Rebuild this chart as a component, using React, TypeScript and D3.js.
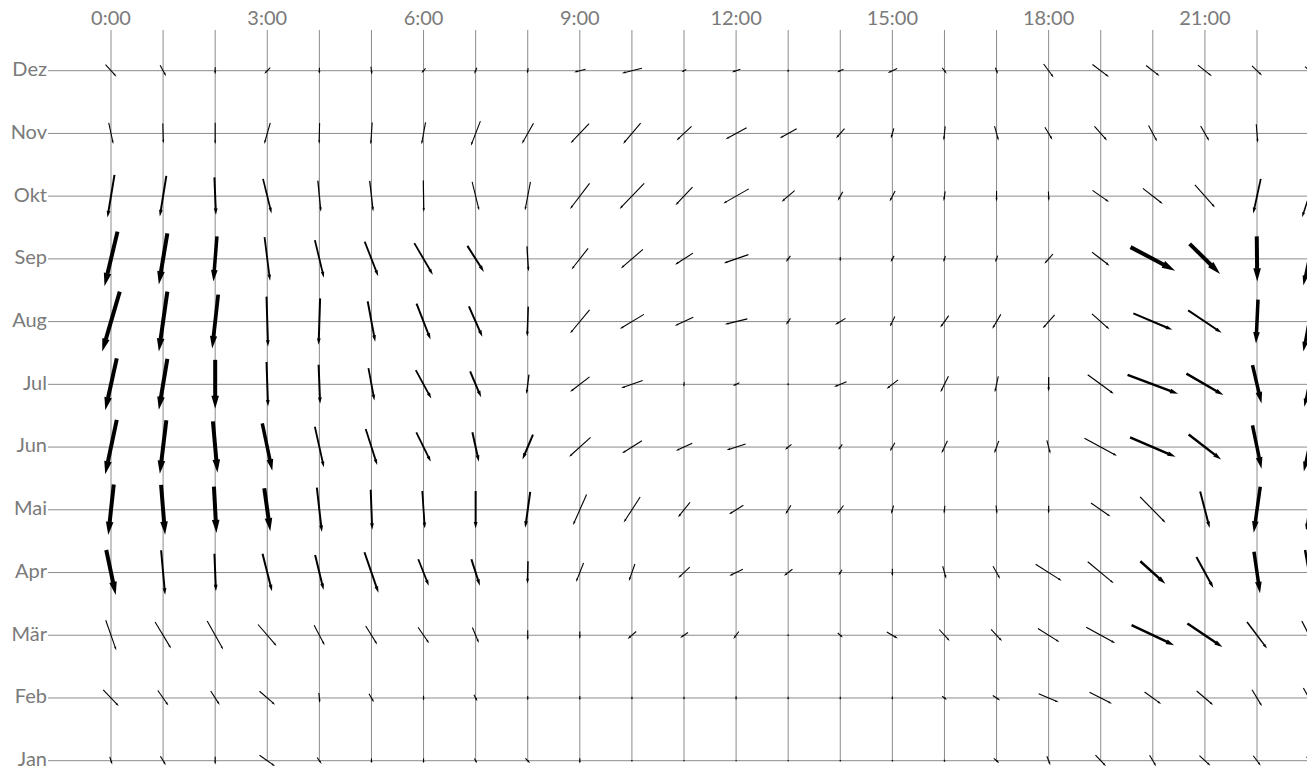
import React from 'react';
import * as d3 from 'd3';

type Vec = [number, number, number]; // u (east), v (north), steadiness 0..1

const monthNames = ['Jan', 'Feb', 'Mär', 'Apr', 'Mai', 'Jun', 'Jul', 'Aug', 'Sep', 'Okt', 'Nov', 'Dez'];
const hours = d3.range(24);
const hourTicks = [0, 3, 6, 9, 12, 15, 18, 21];

// mean wind vector per hour (0:00 .. 23:00)
const jan: Vec[] = [
    [0.25, -0.75, .05], [0.55, -0.9, .05], [0, -0.8, .05], [1.55, -1.1, .05], [0.45, -0.65, .05], [0, -0.45, .05],
    [0, -0.45, .05], [0.25, -0.45, .05], [0.45, -0.45, .05], [0, -0.5, .05], [0, -0.15, .05], [0, -0.1, .05],
    [0, -0.1, .05], [0, -0.1, .05], [0, -0.15, .05], [0, -0.15, .05], [0.1, -0.2, .05], [0.55, -0.45, .05],
    [0.35, -0.9, .05], [1.05, -1.1, .05], [0.65, -1.1, .05], [1.1, -1.0, .05], [0.75, -1.0, .05], [0.5, -0.8, .05],
];
const feb: Vec[] = [
    [1.55, -1.6, .05], [1.05, -1.5, .05], [0.9, -1.4, .05], [1.55, -1.35, .05], [0.1, -1.0, .05], [0.5, -0.85, .05],
    [0, -0.45, .05], [0.35, -0.65, .05], [0, -0.4, .05], [0, -0.4, .05], [0, -0.25, .05], [0, -0.25, .05],
    [0, -0.35, .05], [0, -0.25, .05], [0, -0.25, .05], [0, -0.3, .05], [0.45, -0.35, .05], [0.75, -0.5, .05],
    [2.0, -0.85, .05], [2.25, -1.15, .05], [1.65, -1.2, .05], [1.65, -1.4, .05], [1.0, -1.65, .05], [1.15, -2.0, .05],
];
const maer: Vec[] = [
    [1.05, -3.0, .05], [1.6, -2.65, .05], [1.6, -2.85, .05], [1.85, -2.15, .05], [1.05, -2.0, .05], [1.15, -1.85, .05],
    [1.1, -1.6, .05], [0.65, -1.55, .05], [0, -1.0, .05], [0, -0.75, .05], [-0.85, -0.75, .05], [-0.8, -0.55, .05],
    [-0.55, -0.75, .05], [0, -0.15, .05], [0.5, -0.45, .05], [1.1, -0.65, .05], [1.05, -1.15, .05], [1.1, -1.15, .05],
    [2.15, -1.35, .05], [2.9, -1.6, .08], [4.25, -2.0, .44], [3.5, -2.35, .44], [2.0, -2.65, .17], [1.45, -2.85, .08],
];
const apr: Vec[] = [
    [0.95, -4.5, .86], [0.4, -4.45, .3], [0.15, -3.75, .3], [0.95, -3.75, .3], [0.85, -3.5, .3], [1.4, -4.05, .3],
    [1.05, -2.65, .25], [0.85, -2.65, .3], [-0.05, -2.25, .17], [-0.75, -1.9, .05], [-0.6, -1.7, .05], [-1.15, -1.1, .05],
    [-1.35, -0.65, .05], [-0.85, -0.65, .05], [-0.35, -0.55, .05], [0, -0.75, .05], [0.35, -1.25, .05], [0.7, -1.25, .05],
    [2.6, -1.65, .05], [2.6, -2.15, .05], [2.5, -2.25, .44], [1.7, -3.1, .3], [0.6, -4.15, .72], [0.8, -4.5, .44],
];
const mai: Vec[] = [
    [-0.55, -5.05, .86], [0.4, -5.0, .86], [0.25, -4.65, .86], [0.6, -4.3, .86], [0.5, -4.45, .3], [0.15, -4.0, .3],
    [0.25, -3.75, .25], [0, -3.75, .3], [-0.5, -3.6, .3], [-1.35, -3.05, .05], [-1.65, -2.55, .05], [-1.2, -1.5, .05],
    [-1.45, -0.9, .05], [-0.55, -0.9, .05], [-0.65, -0.85, .05], [-0.25, -0.85, .05], [-0.1, -0.8, .05], [0.1, -0.85, .05],
    [0, -0.8, .05], [1.95, -1.35, .05], [2.55, -2.6, .08], [0.95, -3.65, .3], [-0.65, -4.6, .72], [-0.6, -4.1, .3],
];
const jun: Vec[] = [
    [-1.15, -5.45, .86], [-0.65, -5.35, .86], [0.45, -5.15, .86], [1.0, -4.75, .72], [0.9, -4.05, .25], [1.15, -3.6, .25],
    [1.45, -2.95, .25], [0.65, -2.95, .3], [-1.05, -2.5, .3], [-2.15, -1.95, .05], [-2.0, -1.25, .05], [-1.65, -0.75, .05],
    [-1.9, -0.6, .05], [-0.65, -0.55, .05], [-0.4, -0.55, .05], [-0.5, -0.85, .05], [-0.6, -1.25, .05], [-0.45, -1.25, .05],
    [0.35, -1.35, .05], [3.25, -1.75, .08], [4.55, -1.95, .44], [3.25, -2.5, .44], [0.9, -4.35, .72], [-1.05, -4.9, .58],
];
const jul: Vec[] = [
    [-1.15, -5.2, .86], [-0.85, -5.1, .86], [0, -4.9, .86], [0.15, -4.45, .3], [0.15, -3.9, .3], [0.6, -3.25, .25],
    [1.55, -2.85, .25], [1.1, -2.6, .3], [-0.25, -1.95, .11], [-1.95, -1.5, .05], [-2.15, -0.75, .05], [-0.05, -0.45, .05],
    [-0.65, -0.3, .05], [0, -0.2, .05], [-1.25, -0.5, .05], [-1.15, -0.9, .05], [-0.8, -1.6, .05], [-0.35, -1.6, .05],
    [0, -1.45, .11], [2.6, -1.9, .08], [5.05, -1.9, .44], [3.7, -2.15, .44], [0.9, -3.85, .72], [-0.95, -4.5, .44],
];
const aug: Vec[] = [
    [-1.75, -6.0, .86], [-0.85, -6.0, .86], [-0.6, -5.4, .8], [0.15, -5.0, .3], [-0.15, -4.65, .3], [0.75, -4.05, .3],
    [1.4, -3.6, .3], [1.35, -3.05, .3], [-0.1, -3.0, .17], [-1.95, -2.35, .05], [-2.4, -1.45, .05], [-1.85, -0.85, .05],
    [-2.25, -0.55, .05], [-0.45, -0.65, .05], [-1.05, -0.65, .05], [-0.5, -1.0, .05], [-0.85, -1.2, .05], [-0.85, -1.45, .05],
    [-1.2, -1.35, .05], [1.75, -1.55, .08], [3.9, -1.65, .3], [3.35, -2.25, .3], [-0.2, -4.4, .72], [-1.15, -6.0, .58],
];
const sep: Vec[] = [
    [-1.3, -5.45, .86], [-0.85, -5.1, .86], [-0.35, -4.5, .72], [0.55, -4.35, .25], [0.9, -3.75, .25], [1.35, -3.45, .25],
    [1.85, -3.15, .25], [1.65, -2.6, .3], [0.15, -2.5, .11], [-1.65, -2.1, .05], [-2.2, -1.9, .05], [-1.8, -1.15, .05],
    [-2.45, -0.85, .05], [-0.45, -0.6, .05], [0, -0.4, .05], [-0.35, -0.6, .05], [-0.2, -0.6, .05], [-0.25, -0.65, .05],
    [-0.85, -0.95, .05], [1.75, -1.35, .08], [4.45, -2.35, .86], [3.05, -3.0, .86], [0.05, -4.5, .86], [-1.15, -5.3, .58],
];
const okt: Vec[] = [
    [-0.7, -4.25, .3], [-0.65, -4.05, .3], [0.15, -3.75, .3], [0.85, -3.45, .22], [0.3, -3.1, .11], [0.35, -3.05, .11],
    [0.05, -3.15, .08], [0.7, -2.85, .05], [-0.55, -2.85, .05], [-1.95, -2.55, .05], [-2.45, -2.55, .05], [-1.7, -1.8, .05],
    [-2.55, -1.45, .05], [-1.3, -1.1, .05], [-0.5, -0.9, .05], [-0.55, -1.05, .05], [-0.15, -0.95, .05], [0, -1.05, .05],
    [0.05, -0.95, .05], [1.65, -1.15, .05], [2.0, -1.55, .05], [2.0, -2.25, .05], [-0.75, -3.45, .25], [-1.4, -4.2, .17],
];
const nov: Vec[] = [
    [0.45, -2.1, .05], [0.05, -2.0, .05], [0, -2.15, .05], [-0.6, -2.1, .05], [-0.05, -2.1, .05], [-0.15, -2.2, .05],
    [-0.4, -2.2, .05], [-0.95, -2.45, .05], [-1.15, -2.05, .05], [-1.85, -1.95, .05], [-1.75, -2.05, .05], [-1.5, -1.4, .05],
    [-2.1, -1.15, .05], [-1.7, -0.95, .05], [-0.85, -0.95, .05], [-0.3, -1.0, .05], [-0.15, -1.4, .05], [0.4, -1.45, .05],
    [0.75, -1.25, .05], [1.25, -1.4, .05], [0.85, -1.6, .05], [0.85, -1.5, .05], [0.15, -1.85, .05], [0.1, -0.6, .05],
];
const dez: Vec[] = [
    [1.1, -1.2, .05], [0.6, -1.1, .05], [0, -0.7, .05], [-0.6, -0.6, .05], [0, -0.6, .05], [0.1, -0.8, .05],
    [-0.4, -0.45, .05], [-0.25, -0.6, .05], [-0.1, -0.5, .05], [-1.15, -0.3, .05], [-2.0, -0.5, .05], [-0.45, -0.25, .05],
    [-0.85, -0.3, .05], [-0.1, -0.2, .05], [-0.65, -0.3, .05], [-0.95, -0.45, .05], [0.45, -0.6, .05], [0.25, -0.6, .05],
    [1.0, -1.35, .05], [1.65, -1.25, .05], [1.35, -1.05, .05], [1.4, -1.1, .05], [1.0, -0.95, .05], [0.8, -0.8, .05],
];

const monthData = [jan, feb, maer, apr, mai, jun, jul, aug, sep, okt, nov, dez];

const width = 1307;
const height = 774;
const margin = {t: 30, l: 48};

const x = d3.scaleLinear().domain([0, 22]).range([111, 1257]);
const y = d3.scaleLinear().domain([0, 11]).range([760.7, 70.7]);
const len = d3.scaleLinear().domain([0, 1]).range([0, 10]);   // px per m/s
const stroke = d3.scaleLinear().domain([0, 1]).range([0.9, 4.5]);

function Arrow({cx, cy, d}: {cx: number, cy: number, d: Vec}) {
    const dx = len(d[0]);
    const dy = -len(d[1]);
    const l = Math.hypot(dx, dy);
    if (l < 0.5) return null;
    const w = stroke(d[2]);
    const ux = dx / l, uy = dy / l;
    const x1 = cx - dx / 2, y1 = cy - dy / 2;
    const x2 = cx + dx / 2, y2 = cy + dy / 2;
    const hl = Math.min(l * 0.45, w * 3.3);
    const hw = w * 0.95;
    const bx = x2 - ux * hl, by = y2 - uy * hl;
    const head = [
        [x2, y2],
        [bx - uy * hw, by + ux * hw],
        [bx + uy * hw, by - ux * hw],
    ].map(p => p.join(',')).join(' ');
    return (
        <g>
            <line x1={x1} y1={y1} x2={bx + ux * 0.5} y2={by + uy * 0.5} stroke="#000" strokeWidth={w}/>
            <polygon points={head} fill="#000"/>
        </g>
    );
}

export default function App() {
    const bottom = y(0);
    return (
        <svg width={width} height={height} style={{position: 'absolute', left: 0, top: 0}}
             fontFamily="Lato, 'Open Sans', sans-serif">
            <g className="grid" stroke="#8c8c8c" strokeWidth={1}>
                {hours.map(h => (
                    <line key={'v' + h} x1={x(h)} x2={x(h)} y1={margin.t} y2={bottom}/>
                ))}
                {monthNames.map((m, i) => (
                    <line key={'h' + m} x1={margin.l} x2={width} y1={y(i)} y2={y(i)}/>
                ))}
            </g>
            <g className="axis-labels" fill="#7a7a7a" fontSize={20}>
                {hourTicks.map(h => (
                    <text key={h} x={x(h)} y={25} textAnchor="middle">{h + ':00'}</text>
                ))}
                {monthNames.map((m, i) => (
                    <text key={m} x={margin.l - 1} y={y(i)} dy="0.27em" textAnchor="end">{m}</text>
                ))}
            </g>
            <g className="arrows">
                {monthData.map((row, i) => row.map((d, h) => (
                    <Arrow key={i + '-' + h} cx={x(h)} cy={y(i)} d={d}/>
                )))}
            </g>
        </svg>
    );
}
